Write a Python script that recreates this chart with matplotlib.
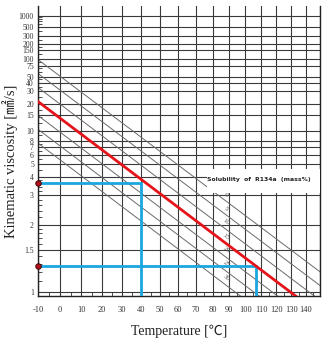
import matplotlib
matplotlib.use('Agg')
import matplotlib.pyplot as plt
import numpy as np
from matplotlib.patches import Rectangle
from matplotlib.ticker import FixedLocator, NullFormatter

# axis ticks
temp_ticks = list(range(-10, 141, 10))
temp_minor = list(range(-5, 146, 10))
visc_ticks = [1, 1.5, 2, 3, 4, 5, 6, 7, 8, 10, 15, 20, 30, 40, 50, 75, 100,
              150, 200, 300, 500, 1000]
visc_minor = [1.1, 1.2, 1.3, 1.4, 1.6, 1.7, 1.8, 1.9, 2.2, 2.4, 2.6, 2.8,
              3.2, 3.4, 3.6, 3.8, 4.5, 5.5, 6.5, 7.5, 9, 12, 14, 17, 25, 35,
              45, 60, 70, 90, 125, 175, 250, 400, 600, 700, 800, 900]

# solubility lines of R134a (mass%): start at -10 C, end where they leave the frame
solubility = [0, 5, 10, 15, 20, 25, 30]
start_visc = [98, 56, 34, 21.8, 14.7, 10.4, 7.6]
end_temp = [150, 150, 146, 133, 120.8, 108.7, 96.9]
end_visc = [1.20, 1.06, 0.97, 0.97, 0.97, 0.97, 0.97]

# oil line (red)
oil_temp = [-10, 133]
oil_visc = [21.8, 0.97]

# operating points (blue)
op_temp = [40, 107]
op_visc = [3.6, 1.27]

T_MIN, T_MAX = -10, 150
V_MIN, V_MAX = 0.97, 1900


def fwd_t(t):
    return np.log10(np.asarray(t, dtype=float) + 273.15)


def inv_t(x):
    return 10 ** np.asarray(x, dtype=float) - 273.15


def fwd_v(v):
    with np.errstate(all='ignore'):
        return np.log10(np.log10(np.asarray(v, dtype=float) + 0.7))


def inv_v(y):
    with np.errstate(all='ignore'):
        return 10 ** (10 ** np.asarray(y, dtype=float)) - 0.7


serif = ['Liberation Serif', 'Noto Sans CJK JP', 'DejaVu Sans']

fig = plt.figure(figsize=(3.25, 3.4), dpi=100)
ax = fig.add_axes([38 / 325, 44 / 340, 282 / 325, 290 / 340])
ax.set_xscale('function', functions=(fwd_t, inv_t))
ax.set_yscale('function', functions=(fwd_v, inv_v))
ax.set_xlim(T_MIN, T_MAX)
ax.set_ylim(V_MIN, V_MAX)

ax.xaxis.set_major_locator(FixedLocator(temp_ticks))
ax.xaxis.set_minor_locator(FixedLocator(temp_minor))
ax.yaxis.set_major_locator(FixedLocator(visc_ticks))
ax.yaxis.set_minor_locator(FixedLocator(visc_minor))
ax.xaxis.set_minor_formatter(NullFormatter())
ax.yaxis.set_minor_formatter(NullFormatter())
ax.set_xticklabels([str(t) for t in temp_ticks], family=serif, fontsize=6,
                   color='#333333')
ax.set_yticklabels([f'{v:g}' for v in visc_ticks], family=serif, fontsize=5.5,
                   color='#333333')
ax.tick_params(axis='x', which='major', direction='in', length=0, pad=7)
ax.tick_params(axis='y', which='major', direction='in', length=0, pad=3)
ax.tick_params(which='minor', direction='in', length=3, width=0.6,
               color='#333333')

# grid
for t in temp_ticks + [T_MAX]:
    ax.axvline(t, color='#3a3a3a', lw=0.8, zorder=1)
for v in visc_ticks:
    ax.axhline(v, color='#3a3a3a', lw=0.8, zorder=1)
for side in ['left', 'bottom', 'right']:
    ax.spines[side].set_color('#222222')
    ax.spines[side].set_linewidth(1.0)
ax.spines['top'].set_visible(False)

# solubility lines
for s, v0, t1, v1 in zip(solubility, start_visc, end_temp, end_visc):
    ax.plot([T_MIN, t1], [v0, v1], color='#6a6a6a', lw=0.7, zorder=2)
    # label at ~88 C along the line
    xa, xb = fwd_t(T_MIN), fwd_t(t1)
    ya, yb = fwd_v(v0), fwd_v(v1)
    xl = fwd_t(88)
    yl = ya + (yb - ya) * (xl - xa) / (xb - xa)
    ax.annotate(str(s), (88, inv_v(yl)), xytext=(0, 2), textcoords='offset points',
                fontsize=5, color='#555555', rotation=-37, ha='center',
                va='bottom', family=serif, zorder=3)

ax.plot(oil_temp, oil_visc, color='#e5141b', lw=2.0, zorder=5)

for t, v in zip(op_temp, op_visc):
    ax.plot([T_MIN, t, t], [v, v, V_MIN], color='#1aa7e0', lw=2.0, zorder=4,
            solid_joinstyle='miter')
    ax.plot([T_MIN], [v], marker='o', ms=4, mfc='#b0101a', mec='#300000',
            mew=0.6, clip_on=False, zorder=6)

# white label box
ax.add_patch(Rectangle((0.6, 0.355), 0.4, 0.083, transform=ax.transAxes,
                       fc='white', ec='none', zorder=6))
ax.text(0.784, 0.4, 'Solubility  of  R134a  (mass%)', transform=ax.transAxes,
        ha='center', va='center', fontsize=4.4, fontweight='bold',
        color='#222222', family='DejaVu Sans', zorder=7)

ax.set_ylabel('Kinematic viscosity [㎟/s]', family=serif, fontsize=10.5,
              color='#222222')
ax.yaxis.set_label_coords(-0.072, 0.466)
ax.set_xlabel('Temperature [℃]', family=serif, fontsize=10, color='#222222')
ax.xaxis.set_label_coords(0.5, -0.1)

fig.savefig('out.png', dpi=100)
